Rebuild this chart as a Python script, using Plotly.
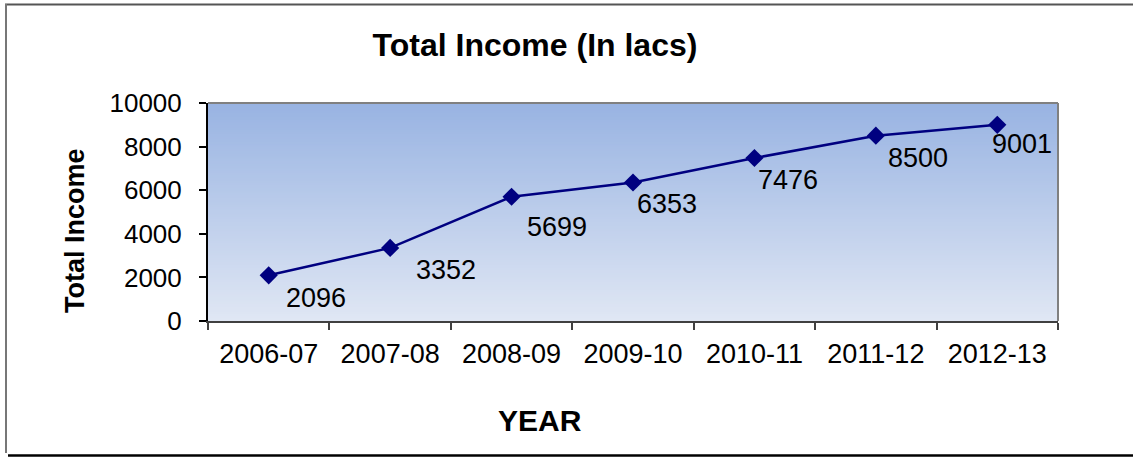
import plotly.graph_objects as go

# Financial years and total income (in lacs)
years = ["2006-07", "2007-08", "2008-09", "2009-10", "2010-11", "2011-12", "2012-13"]
income = [2096, 3352, 5699, 6353, 7476, 8500, 9001]

# Offsets (px) of each value label from its marker
label_dx = [47, 56, 45, 34, 34, 42, 25]
label_dy = [23, 22, 30, 21, 22, 22, 19]

W, H = 1133, 458
L, R, T, B = 208, 1058, 103, 321
FONT = "Liberation Sans, Arial, sans-serif"
NAVY = "#000080"


def px_x(p):
    return (p - L) / (R - L)


def px_y(p):
    return (B - p) / (B - T)


fig = go.Figure()

fig.add_trace(go.Scatter(
    x=years, y=income, mode="lines+markers",
    line=dict(color=NAVY, width=2.5),
    marker=dict(symbol="diamond", size=14, color=NAVY),
    hoverinfo="x+y", showlegend=False,
))

shapes = []

# vertical gradient fill of the plot area: each band runs down to the
# bottom edge and the next, lighter band covers it, so no seams show
top_rgb = (0x98, 0xB3, 0xE2)
bot_rgb = (0xE0, 0xE7, 0xF4)
n = 90
for i in range(n):
    t = (i + 0.5) / n
    c = tuple(round(top_rgb[k] + (bot_rgb[k] - top_rgb[k]) * t) for k in range(3))
    shapes.append(dict(
        type="rect", xref="x domain", yref="y domain",
        x0=0, x1=1, y0=0, y1=1 - i / n,
        fillcolor="rgb(%d,%d,%d)" % c, line=dict(width=0), layer="below",
    ))

# plot-area border (top and right)
shapes.append(dict(type="line", xref="x domain", yref="y domain",
                   x0=0, x1=1, y0=1, y1=1, line=dict(color="#808080", width=2)))
shapes.append(dict(type="line", xref="x domain", yref="y domain",
                   x0=1, x1=1, y0=0, y1=1, line=dict(color="#808080", width=2)))

# outer chart frame
shapes.append(dict(type="line", xref="paper", yref="paper",
                   x0=px_x(5), x1=px_x(W + 5), y0=px_y(4.5), y1=px_y(4.5),
                   line=dict(color="#555555", width=2)))
shapes.append(dict(type="line", xref="paper", yref="paper",
                   x0=px_x(6), x1=px_x(6), y0=px_y(4), y1=px_y(453),
                   line=dict(color="#777777", width=2)))
shapes.append(dict(type="line", xref="paper", yref="paper",
                   x0=px_x(8), x1=px_x(W + 5), y0=px_y(455.5), y1=px_y(455.5),
                   line=dict(color="#000000", width=2.5)))

annotations = []
for yr, v, dx, dy in zip(years, income, label_dx, label_dy):
    annotations.append(dict(
        x=yr, y=v, xref="x", yref="y", text=str(v), showarrow=False,
        xshift=dx, yshift=-dy, font=dict(family=FONT, size=27, color="#000000"),
    ))

annotations.append(dict(
    x=px_x(540), y=px_y(420), xref="paper", yref="paper", text="<b>YEAR</b>",
    xanchor="center", yanchor="middle",
    showarrow=False, font=dict(family=FONT, size=30, color="#000000"),
))
annotations.append(dict(
    x=px_x(75), y=px_y(231), xref="paper", yref="paper", text="<b>Total Income</b>",
    xanchor="center", yanchor="middle",
    textangle=-90, showarrow=False, font=dict(family=FONT, size=27, color="#000000"),
))

fig.update_layout(
    width=W, height=H,
    margin=dict(l=L, r=W - R, t=T, b=H - B, pad=0),
    paper_bgcolor="white", plot_bgcolor="white",
    title=dict(text="<b>Total Income (In lacs)</b>", x=535 / W, xanchor="center",
               y=1 - 45 / H, yanchor="middle", xref="container", yref="container",
               font=dict(family=FONT, size=32, color="#000000")),
    shapes=shapes, annotations=annotations,
    font=dict(family=FONT),
)

fig.update_xaxes(
    type="category", range=[-0.5, 6.5], tickson="boundaries",
    ticks="outside", ticklen=7, tickwidth=1.5, tickcolor="#404040",
    showline=True, linecolor="#404040", linewidth=2,
    showgrid=False, zeroline=False,
    tickfont=dict(family=FONT, size=27, color="#000000"),
    ticklabelstandoff=8,
)
fig.update_yaxes(
    range=[0, 10000], dtick=2000, tick0=0, tickformat="d",
    ticks="outside", ticklen=7, tickwidth=1.5, tickcolor="#000000",
    showline=True, linecolor="#000000", linewidth=2,
    showgrid=False, zeroline=False,
    tickfont=dict(family=FONT, size=26, color="#000000"),
    ticklabelstandoff=12,
)

fig.write_html("out.html")
